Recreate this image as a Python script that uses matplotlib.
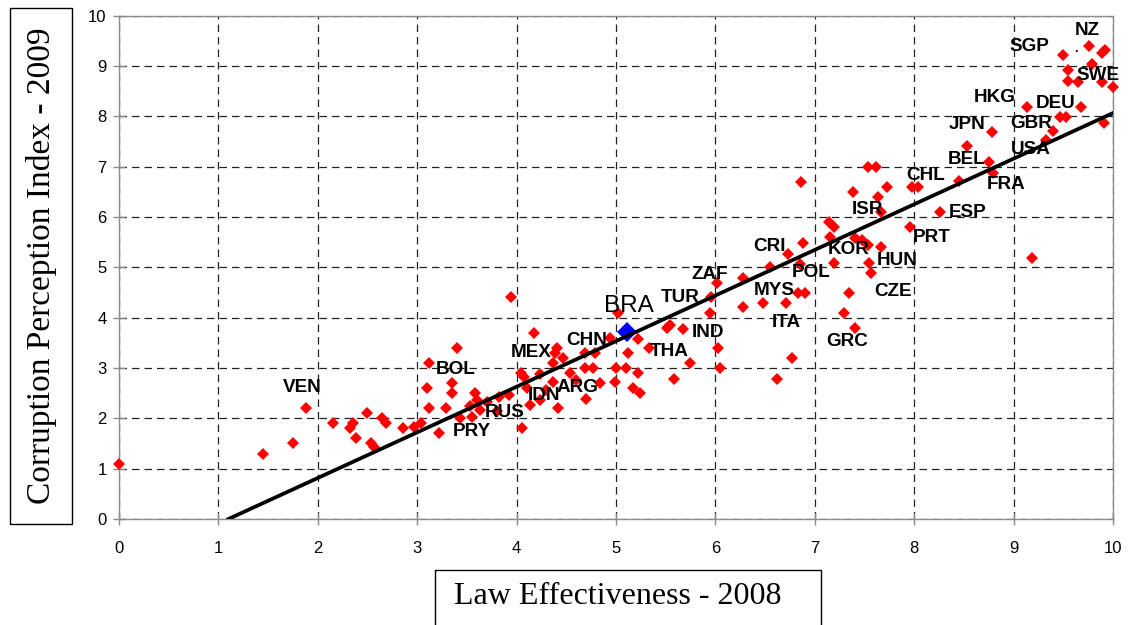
import numpy as np
import matplotlib.pyplot as plt
from matplotlib.patches import Rectangle

# Law effectiveness (2008) vs corruption perception index (2009), one point per country
law_2008 = [0.0, 1.45, 1.75, 1.88, 2.15, 2.32, 2.35, 2.38, 2.49, 2.54, 2.57, 2.65, 2.69,
            2.86, 2.97, 3.04, 3.10, 3.12, 3.12, 3.22, 3.29, 3.35, 3.35, 3.40, 3.43, 3.53,
            3.55, 3.58, 3.60, 3.63, 3.70, 3.80, 3.82, 3.92, 3.94, 4.05, 4.04, 4.07, 4.10,
            4.13, 4.18, 4.24, 4.24, 4.30, 4.37, 4.37, 4.41, 4.39, 4.47, 4.42, 4.54, 4.60,
            4.69, 4.77, 4.69, 4.79, 4.84, 4.70, 4.94, 4.99, 5.00, 5.10, 5.22, 5.17, 5.24,
            5.12, 5.22, 5.33, 5.02, 5.51, 5.54, 5.67, 5.74, 5.58, 5.95, 5.96, 6.02, 6.03,
            6.05, 6.28, 6.28, 6.48, 6.55, 6.71, 6.73, 6.88, 6.85, 6.83, 6.90, 6.77, 6.62,
            6.86, 7.14, 7.19, 7.15, 7.19, 7.29, 7.34, 7.40, 7.38, 7.54, 7.62, 7.40, 7.47,
            7.54, 7.67, 7.55, 7.57, 7.64, 7.73, 7.67, 7.98, 8.04, 7.96, 8.26, 8.45, 8.53,
            8.75, 8.79, 8.78, 9.13, 9.19, 9.33, 9.40, 9.47, 9.53, 9.68, 9.50, 9.55, 9.55,
            9.65, 9.76, 9.79, 9.89, 9.92, 9.89, 9.91, 10.0]
cpi_2009 = [1.1, 1.3, 1.5, 2.2, 1.9, 1.8, 1.9, 1.6, 2.1, 1.5, 1.43, 2.0, 1.9,
            1.8, 1.83, 1.9, 2.6, 3.1, 2.2, 1.7, 2.2, 2.7, 2.5, 3.4, 2.0, 2.25,
            2.03, 2.5, 2.37, 2.17, 2.33, 2.15, 2.43, 2.47, 4.4, 1.8, 2.9, 2.83, 2.6,
            2.26, 3.7, 2.87, 2.37, 2.56, 2.72, 3.09, 3.4, 3.29, 3.2, 2.2, 2.89, 2.76,
            2.99, 2.99, 3.3, 3.3, 2.7, 2.39, 3.6, 2.72, 2.99, 2.99, 2.89, 2.6, 2.5,
            3.29, 3.58, 3.39, 4.09, 3.8, 3.86, 3.78, 3.09, 2.79, 4.09, 4.41, 4.69, 3.39,
            2.99, 4.79, 4.21, 4.29, 5.01, 4.29, 5.27, 5.48, 5.07, 4.49, 4.49, 3.19, 2.79,
            6.69, 5.9, 5.8, 5.6, 5.08, 4.09, 4.49, 3.8, 6.49, 6.99, 6.99, 5.58, 5.54,
            5.44, 5.4, 5.09, 4.89, 6.4, 6.59, 6.1, 6.6, 6.6, 5.79, 6.1, 6.71, 7.4,
            7.1, 6.88, 7.68, 8.19, 5.19, 7.53, 7.70, 7.98, 7.98, 8.19, 9.21, 8.91, 8.70,
            8.68, 9.40, 9.04, 9.25, 9.31, 8.68, 7.86, 8.58]

# Brazil highlighted
bra_law = [5.11]
bra_cpi = [3.72]

# fitted trend line
fit_slope = 0.906
fit_intercept = -0.997

# country codes and where their labels sit
label_names = ["VEN", "BOL", "PRY", "RUS", "IDN", "ARG", "MEX", "CHN", "TUR", "THA",
               "IND", "ZAF", "CRI", "MYS", "POL", "ITA", "KOR", "GRC", "ISR", "HUN",
               "CZE", "CHL", "PRT", "ESP", "BEL", "FRA", "JPN", "HKG", "GBR", "DEU",
               "USA", "SGP", "NZ", "SWE"]
label_x = [1.84, 3.39, 3.55, 3.88, 4.28, 4.61, 4.15, 4.71, 5.65, 5.54,
           5.93, 5.94, 6.54, 6.59, 6.96, 6.71, 7.34, 7.33, 7.53, 7.83,
           7.79, 8.11, 8.18, 8.54, 8.53, 8.92, 8.53, 8.81, 9.18, 9.42,
           9.17, 9.16, 9.74, 9.85]
label_y = [2.62, 2.96, 1.73, 2.12, 2.46, 2.62, 3.31, 3.55, 4.40, 3.33,
           3.71, 4.86, 5.42, 4.54, 4.90, 3.91, 5.36, 3.53, 6.15, 5.14,
           4.52, 6.83, 5.60, 6.09, 7.14, 6.65, 7.84, 8.37, 7.86, 8.25,
           7.34, 9.38, 9.70, 8.81]

plt.rcParams['font.family'] = ['Liberation Sans', 'DejaVu Sans']

fig = plt.figure(figsize=(11.28, 6.25), dpi=100)
ax = fig.add_axes([0.1055, 0.1696, 0.8812, 0.8056])

ax.plot(law_2008, cpi_2009, linestyle='none', marker='D', ms=6.2,
        color='#ff0000', mew=0, zorder=3, clip_on=False)
ax.plot(bra_law, bra_cpi, linestyle='none', marker='D', ms=10.5,
        color='#0000ff', mew=0, zorder=4)

x0 = -fit_intercept / fit_slope
xs = np.array([x0, 10.0])
ax.plot(xs, fit_slope * xs + fit_intercept, color='black', lw=2.7, zorder=5)

for name, lx, ly in zip(label_names, label_x, label_y):
    ax.text(lx, ly, name, ha='center', va='center', fontsize=13.6, fontweight='bold', zorder=6)
ax.text(bra_law[0] + 0.02, bra_cpi[0] + 0.52, "BRA", ha='center', va='center', fontsize=17.5, zorder=6)
ax.text(9.63, 9.33, ".", ha='center', va='center', fontsize=9, fontweight='bold', zorder=6)

ax.set_xlim(0, 10)
ax.set_ylim(0, 10)
ax.set_xticks(np.arange(0, 11, 1))
ax.set_yticks(np.arange(0, 11, 1))
ax.set_axisbelow(True)
ax.grid(True, color='#222222', linestyle=(0, (6, 4)), linewidth=0.9)
for side in ['left', 'bottom', 'top', 'right']:
    ax.spines[side].set_color('#8c8c8c')
    ax.spines[side].set_linewidth(1.0)
ax.tick_params(direction='inout', length=8, width=1, color='#8c8c8c',
               labelsize=12, labelcolor='black')
ax.tick_params(axis='x', pad=12)
ax.tick_params(axis='y', pad=5)

# boxed axis titles drawn in figure space
fig.patches.append(Rectangle((10 / 1128, 1 - 524 / 625), 62 / 1128, 516 / 625,
                             transform=fig.transFigure, fill=False, edgecolor='black', lw=1))
fig.text(42 / 1128, 1 - 266 / 625, "Corruption Perception Index - 2009", rotation=90,
         ha='center', va='center', fontsize=24, family=['Liberation Serif', 'DejaVu Serif'])
fig.patches.append(Rectangle((435 / 1128, -20 / 625), 386 / 1128, 75 / 625,
                             transform=fig.transFigure, fill=False, edgecolor='black', lw=1))
fig.text(618 / 1128, 1 - 597 / 625, "Law Effectiveness - 2008",
         ha='center', va='center', fontsize=23, family=['Liberation Serif', 'DejaVu Serif'])

fig.savefig('out.png', dpi=100, facecolor='w')
